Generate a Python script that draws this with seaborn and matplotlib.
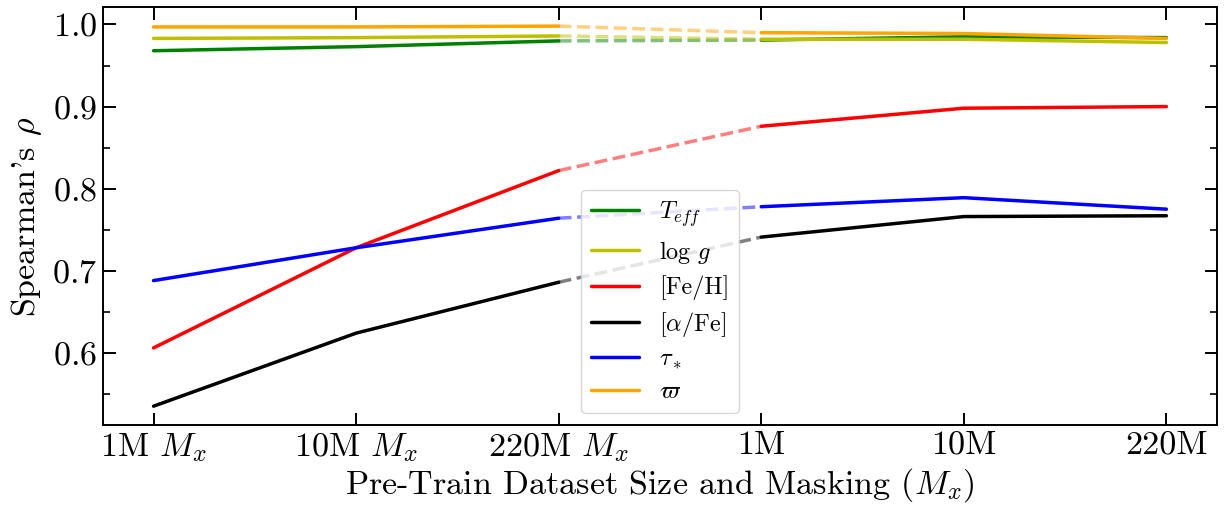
import numpy as np
import pandas as pd
import matplotlib
matplotlib.use("Agg")
import matplotlib.pyplot as plt
from matplotlib.ticker import AutoMinorLocator, MultipleLocator
import seaborn as sns

# x-axis categories: masked pre-training (M_x) followed by unmasked
tick_labels = ["1M $M_x$", "10M $M_x$", "220M $M_x$", "1M", "10M", "220M"]

# Spearman's rho per stellar parameter at each pre-train setting
teff   = [0.968, 0.973, 0.980, 0.981, 0.985, 0.984]
logg   = [0.983, 0.984, 0.986, 0.982, 0.982, 0.978]
feh    = [0.606, 0.728, 0.822, 0.876, 0.898, 0.900]
alphfe = [0.535, 0.624, 0.686, 0.741, 0.766, 0.767]
tau    = [0.688, 0.728, 0.764, 0.778, 0.789, 0.775]
plx    = [0.997, 0.997, 0.998, 0.990, 0.989, 0.983]

series_names = [r"$T_{eff}$", r"$\log\,g$", "[Fe/H]", r"[$\alpha$/Fe]", r"$\tau_*$", r"$\varpi$"]
series_vals = [teff, logg, feh, alphfe, tau, plx]
series_colors = ["#008000", "#BFBF00", "#FF0000", "#000000", "#0000FF", "#FFA500"]

sns.set_theme(style="ticks")
plt.rcParams.update({
    "font.family": "serif",
    "font.serif": ["cmr10"],
    "mathtext.fontset": "cm",
    "axes.formatter.use_mathtext": True,
    "axes.unicode_minus": False,
    "axes.linewidth": 1.4,
    "xtick.direction": "in",
    "ytick.direction": "in",
    "xtick.top": True,
    "ytick.right": True,
    "xtick.major.size": 9,
    "ytick.major.size": 9,
    "ytick.minor.size": 5,
    "xtick.major.width": 1.4,
    "ytick.major.width": 1.4,
    "ytick.minor.width": 1.2,
    "axes.edgecolor": "black",
    "xtick.color": "black",
    "ytick.color": "black",
    "text.color": "black",
    "axes.labelcolor": "black",
})

fig, ax = plt.subplots(figsize=(12.25, 5.08), dpi=100)
fig.subplots_adjust(left=0.084, right=0.9935, top=0.986, bottom=0.163)

x = np.arange(len(tick_labels))
for name, vals, col in zip(series_names, series_vals, series_colors):
    df = pd.DataFrame({"x": x, "rho": vals})
    masked = df.iloc[0:3]
    bridge = df.iloc[2:4]
    unmasked = df.iloc[3:6]
    sns.lineplot(data=masked, x="x", y="rho", color=col, lw=2.5, ax=ax, label=name)
    sns.lineplot(data=bridge, x="x", y="rho", color=col, lw=2.5, ls="--", alpha=0.5, ax=ax)
    sns.lineplot(data=unmasked, x="x", y="rho", color=col, lw=2.5, ax=ax)

ax.set_xticks(x)
ax.set_xticklabels(tick_labels)
ax.yaxis.set_major_locator(MultipleLocator(0.1))
ax.yaxis.set_minor_locator(AutoMinorLocator(2))
ax.tick_params(axis="both", labelsize=24.5, pad=4)
ax.set_xlabel(r"Pre-Train Dataset Size and Masking ($M_x$)", fontsize=24.5, labelpad=2)
ax.set_ylabel(r"Spearman's $\rho$", fontsize=24.5, labelpad=6)

leg = ax.legend(loc="lower center", fontsize=17.5, frameon=True, framealpha=0.8,
                fancybox=True, edgecolor="0.8", labelspacing=0.4)

fig.savefig("out.png", dpi=100)
